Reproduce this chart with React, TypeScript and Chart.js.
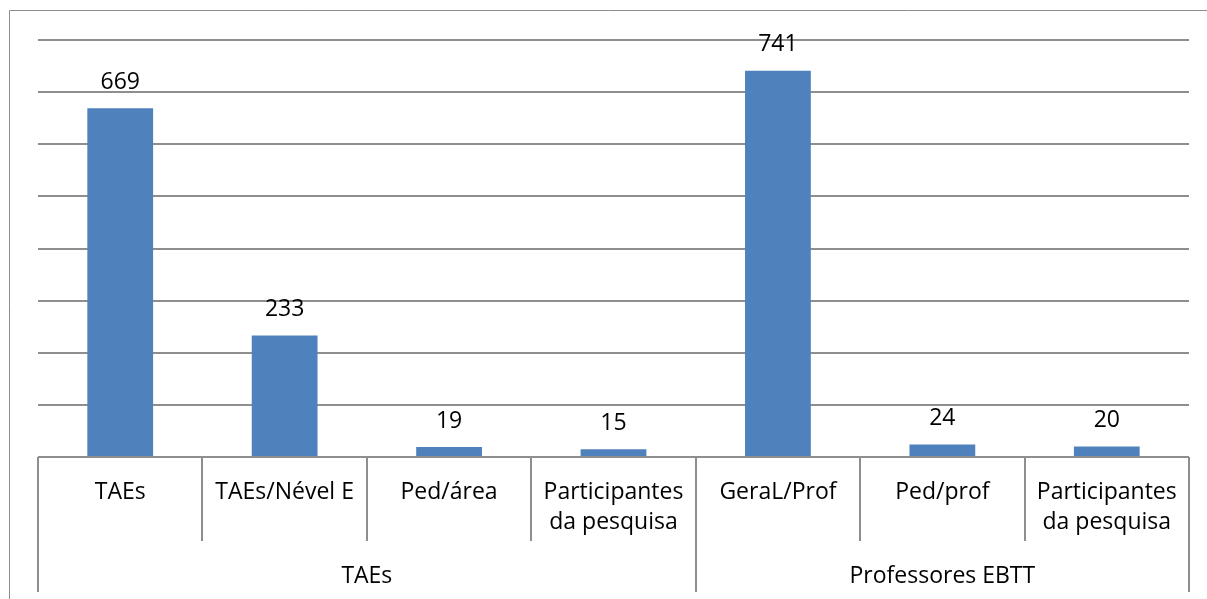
import React, { useEffect, useRef } from "react";
import { Chart, registerables } from "chart.js";

Chart.register(...registerables);

// Category labels (lines of each label) and their groups
const categoryLabels: string[][] = [
  ["TAEs"],
  ["TAEs/Nével E"],
  ["Ped/área"],
  ["Participantes", "da pesquisa"],
  ["GeraL/Prof"],
  ["Ped/prof"],
  ["Participantes", "da pesquisa"],
];
const groupNames: string[] = ["TAEs", "Professores EBTT"];
const groupSizes: number[] = [4, 3];
const values: number[] = [669, 233, 19, 15, 741, 24, 20];
const yTicks: number[] = [0, 100, 200, 300, 400, 500, 600, 700, 800];

const BAR_COLOR = "#4F81BD";
const LINE_COLOR = "#8e8e8e";
const FONT = "'Open Sans', 'Noto Sans', sans-serif";

const axisPlugin = {
  id: "groupedAxis",
  afterDraw(chart: any) {
    const { ctx, chartArea, scales } = chart;
    const xs = scales.x;
    const n = categoryLabels.length;
    const step = (chartArea.right - chartArea.left) / n;
    const edge = (i: number) =>
      i < n ? xs.getPixelForValue(i) - step / 2 : xs.getPixelForValue(n - 1) + step / 2;
    const bottom = chartArea.bottom;

    ctx.save();
    // outer frame
    ctx.strokeStyle = LINE_COLOR;
    ctx.lineWidth = 1;
    ctx.beginPath();
    ctx.moveTo(9.5, 700);
    ctx.lineTo(9.5, 10.5);
    ctx.lineTo(1300, 10.5);
    ctx.stroke();

    // category separators
    const groupEdges = new Set<number>();
    let acc = 0;
    groupEdges.add(0);
    for (const s of groupSizes) {
      acc += s;
      groupEdges.add(acc);
    }
    ctx.lineWidth = 2;
    for (let i = 0; i <= n; i++) {
      const x = Math.round(edge(i));
      ctx.beginPath();
      ctx.moveTo(x, bottom);
      ctx.lineTo(x, groupEdges.has(i) ? bottom + 135 : bottom + 84);
      ctx.stroke();
    }

    // category labels
    ctx.fillStyle = "#000";
    ctx.font = `23px ${FONT}`;
    ctx.textAlign = "center";
    ctx.textBaseline = "middle";
    categoryLabels.forEach((lines, i) => {
      const cx = xs.getPixelForValue(i);
      lines.forEach((line, j) => {
        ctx.fillText(line, cx, bottom + 35 + j * 30);
      });
    });

    // group labels
    let start = 0;
    groupNames.forEach((g, gi) => {
      const end = start + groupSizes[gi];
      const cx = (edge(start) + edge(end)) / 2;
      ctx.fillText(g, cx, bottom + 119);
      start = end;
    });

    // value labels above bars
    const meta = chart.getDatasetMeta(0);
    meta.data.forEach((bar: any, i: number) => {
      ctx.fillText(String(values[i]), bar.x, bar.y - 26);
    });
    ctx.restore();
  },
};

export default function App() {
  const ref = useRef<HTMLCanvasElement>(null);

  useEffect(() => {
    if (!ref.current) return;
    const chart = new Chart(ref.current, {
      type: "bar",
      data: {
        labels: categoryLabels.map((l) => l.join(" ")),
        datasets: [
          {
            data: values,
            backgroundColor: BAR_COLOR,
            borderWidth: 0,
            barPercentage: 0.4,
            categoryPercentage: 1,
          },
        ],
      },
      options: {
        animation: false,
        responsive: false,
        layout: { padding: { left: 38, top: 40, right: 18, bottom: 142 } },
        plugins: { legend: { display: false }, tooltip: { enabled: false } },
        scales: {
          x: { display: false, offset: true },
          y: {
            display: true,
            min: 0,
            max: 800,
            afterBuildTicks: (axis: any) => {
              axis.ticks = yTicks.map((v) => ({ value: v }));
            },
            ticks: { display: false },
            border: { display: false },
            grid: { color: LINE_COLOR, lineWidth: 2, drawTicks: false },
          },
        },
      },
      plugins: [axisPlugin],
    });
    return () => chart.destroy();
  }, []);

  return (
    <div style={{ position: "fixed", left: 0, top: 0, width: 1207, height: 599, background: "#fff" }}>
      <canvas ref={ref} width={1207} height={599} />
    </div>
  );
}
